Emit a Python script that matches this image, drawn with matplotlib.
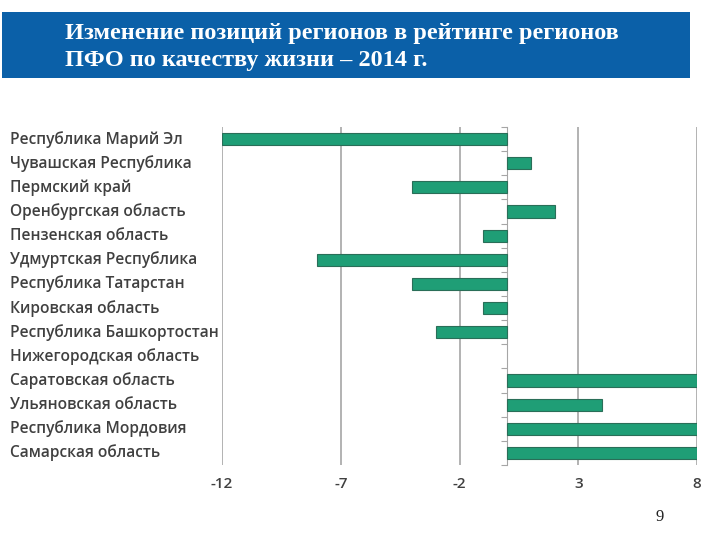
import matplotlib
matplotlib.use("Agg")
import matplotlib.pyplot as plt
from matplotlib.patches import Rectangle
from matplotlib.transforms import blended_transform_factory

regions = ["Республика Марий Эл", "Чувашская Республика", "Пермский край",
           "Оренбургская область", "Пензенская область", "Удмуртская Республика",
           "Республика Татарстан", "Кировская область", "Республика Башкортостан",
           "Нижегородская область", "Саратовская область", "Ульяновская область",
           "Республика Мордовия", "Самарская область"]
changes = [-12, 1, -4, 2, -1, -8, -4, -1, -3, 0, 8, 4, 8, 8]
xticks = [-12, -7, -2, 3, 8]
title = "Изменение позиций регионов в рейтинге регионов\nПФО по качеству жизни – 2014 г."
page = "9"

W, H = 720, 540
fig = plt.figure(figsize=(W / 100, H / 100), dpi=100)
fig.patch.set_facecolor("white")

# Title banner
fig.patches.append(Rectangle((2 / W, 1 - 78 / H), (690 - 2) / W, (78 - 12) / H,
                             transform=fig.transFigure, facecolor="#0b60a8",
                             edgecolor="none", zorder=0))
fig.text(65 / W, 1 - 47 / H, title, color="white", fontsize=17.5,
         fontweight="bold", family="Liberation Serif", ha="left", va="center",
         linespacing=1.4)

ax = fig.add_axes([222 / W, 1 - 465 / H, (697 - 222) / W, (465 - 127) / H])
n = len(regions)
ypos = list(range(n))
bars = ax.barh(ypos, changes, height=0.5, color="#1f9e76", edgecolor="#2a6e58",
               linewidth=0.8, zorder=3)
for b, v in zip(bars, changes):
    if v == 0:
        b.set_visible(False)
ax.set_xlim(-12, 8)
ax.set_ylim(n - 0.5, -0.5)
ax.set_xticks(xticks)
ax.set_xticklabels([str(t) for t in xticks], fontsize=11, color="#404040",
                   family="Open Sans", fontweight="semibold")
ax.tick_params(axis="x", length=0, pad=9)
for x in xticks:
    ax.axvline(x, color="#a6a6a6", linewidth=1.2, zorder=1)
for s in ["top", "right", "bottom"]:
    ax.spines[s].set_visible(False)
ax.spines["left"].set_position(("data", 0))
ax.spines["left"].set_color("#a6a6a6")
ax.spines["left"].set_zorder(2)
ax.set_yticks([i - 0.5 for i in range(n + 1)])
ax.set_yticklabels([])
ax.tick_params(axis="y", length=4, color="#a6a6a6", direction="out")

trans = blended_transform_factory(fig.transFigure, ax.transData)
for i, r in enumerate(regions):
    ax.text(10 / W, i, r, transform=trans, ha="left", va="center",
            fontsize=11.2, color="#404040", family="Open Sans",
            fontweight="semibold", clip_on=False)

fig.text(660 / W, 1 - 517 / H, page, fontsize=12, family="Liberation Serif",
         ha="center", va="center", color="#222222")

fig.savefig("out.png", dpi=100)
